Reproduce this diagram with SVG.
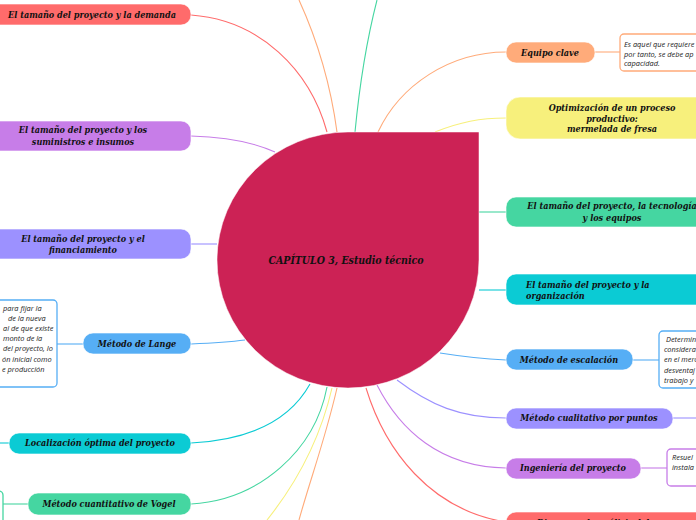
<svg xmlns="http://www.w3.org/2000/svg" width="696" height="520" viewBox="0 0 696 520">
<style>
.n{stroke:#ffffff;stroke-opacity:0.6;stroke-width:1}
.t{font-family:"DejaVu Serif","Liberation Serif",serif;font-weight:bold;font-style:italic;font-size:9px;font-stretch:condensed;fill:#111}
.big{font-size:10.5px}
.m{text-anchor:middle}
.c{fill:none;stroke-width:1.1}
.note{fill:#fff;stroke-width:1.3}
.nt{font-family:"Open Sans","Noto Sans",sans-serif;font-style:italic;font-size:7.4px;fill:#222}
</style>
<g id="connectors">
<path class="c" stroke="#FF6B6B" d="M191,15 C260,20 310,70 327,132"/>
<path class="c" stroke="#C77DE8" d="M191,136 C230,137 255,143 275,152"/>
<path class="c" stroke="#9C91FF" d="M191,244 L217,244"/>
<path class="c" stroke="#56AEF5" d="M191,344 C215,343 230,342 245,340"/>
<path class="c" stroke="#56AEF5" d="M57,344 L83,344"/>
<path class="c" stroke="#0BCBD4" d="M191,443 C250,440 290,420 310,384"/>
<path class="c" stroke="#0BCBD4" d="M0,443 L9,443"/>
<path class="c" stroke="#45D6A1" d="M191,504 C260,500 315,450 327,387"/>
<path class="c" stroke="#45D6A1" d="M3,504 L28,504"/>
<path class="c" stroke="#F7F07C" d="M332,388 C320,440 295,485 267,520"/>
<path class="c" stroke="#FFAB7A" d="M337,388 C325,440 310,480 299,520"/>
<path class="c" stroke="#FF6B6B" d="M366,388 C385,450 430,510 506,522"/>
<path class="c" stroke="#C77DE8" d="M377,385 C400,430 440,467 506,468"/>
<path class="c" stroke="#C77DE8" d="M641,468 L667,468"/>
<path class="c" stroke="#9C91FF" d="M397,380 C430,405 460,418 506,418"/>
<path class="c" stroke="#9C91FF" d="M673,418 L696,418"/>
<path class="c" stroke="#56AEF5" d="M440,353 C465,357 485,359 506,360"/>
<path class="c" stroke="#56AEF5" d="M633,360 L659,360"/>
<path class="c" stroke="#0BCBD4" d="M479,290 L506,290"/>
<path class="c" stroke="#45D6A1" d="M479,212 L506,212"/>
<path class="c" stroke="#F7F07C" d="M435,132 C460,122 480,118 506,118"/>
<path class="c" stroke="#FFAB7A" d="M378,132 C400,85 450,52 506,52"/>
<path class="c" stroke="#FFAB7A" d="M595,52 L620,52"/>
<path class="c" stroke="#FFAB7A" d="M337,132 C330,80 315,35 299,0"/>
<path class="c" stroke="#45D6A1" d="M355,132 C360,80 368,35 377,0"/>
</g>
<g id="center">
<path d="M348,132 H479 V260 A131,128 0 1 1 348,132 Z" fill="#CC2255" stroke="#fff" stroke-opacity="0.5"/>
<text class="t big m" x="346" y="264">CAPÍTULO 3, Estudio técnico</text>
</g>
<g id="n-demanda">
<rect class="n" x="-20" y="4" width="211" height="21" rx="10" fill="#FF6B6B"/>
<text class="t m" x="92" y="18">El tamaño del proyecto y la demanda</text>
</g>
<g id="n-suministros">
<rect class="n" x="-20" y="121" width="211" height="30" rx="10" fill="#C77DE8"/>
<text class="t m" x="83" y="133">El tamaño del proyecto y los</text>
<text class="t m" x="83" y="145">suministros e insumos</text>
</g>
<g id="n-financiamiento">
<rect class="n" x="-20" y="229" width="211" height="30" rx="10" fill="#9C91FF"/>
<text class="t m" x="83" y="242">El tamaño del proyecto y el</text>
<text class="t m" x="83" y="253">financiamiento</text>
</g>
<g id="n-lange">
<rect class="n" x="83" y="333" width="108" height="21" rx="10" fill="#56AEF5"/>
<text class="t m" x="137" y="347">Método de Lange</text>
</g>
<g id="note-lange">
<rect class="note" stroke="#56AEF5" x="-60" y="300" width="117" height="87" rx="4"/>
<text class="nt" x="3" y="311">para fijar la</text>
<text class="nt" x="8" y="321">de la nueva</text>
<text class="nt" x="3" y="331">al de que existe</text>
<text class="nt" x="3" y="341">monto de la</text>
<text class="nt" x="3" y="351">del proyecto, lo</text>
<text class="nt" x="2" y="362">ón inicial como</text>
<text class="nt" x="2" y="372">e producción</text>
</g>
<g id="n-localizacion">
<rect class="n" x="9" y="433" width="182" height="21" rx="10" fill="#0BCBD4"/>
<text class="t m" x="100" y="446">Localización óptima del proyecto</text>
</g>
<g id="n-vogel">
<rect class="n" x="28" y="493" width="163" height="22" rx="10" fill="#45D6A1"/>
<text class="t m" x="109" y="507">Método cuantitativo de Vogel</text>
</g>
<g id="note-vogel">
<rect class="note" stroke="#45D6A1" x="-100" y="491" width="103" height="60" rx="4"/>
</g>
<g id="n-equipo">
<rect class="n" x="506" y="42" width="89" height="21" rx="10" fill="#FFAB7A"/>
<text class="t m" x="550" y="56">Equipo clave</text>
</g>
<g id="note-equipo">
<rect class="note" stroke="#FFAB7A" x="620" y="34" width="100" height="37" rx="4"/>
<text class="nt" x="624" y="47">Es aquel que requiere</text>
<text class="nt" x="624" y="57">por tanto, se debe ap</text>
<text class="nt" x="624" y="66">capacidad.</text>
</g>
<g id="n-optimizacion">
<rect class="n" x="506" y="97" width="220" height="42" rx="14" fill="#F7F07C"/>
<text class="t m" x="612" y="111">Optimización de un proceso</text>
<text class="t m" x="612" y="122">productivo:</text>
<text class="t m" x="612" y="132">mermelada de fresa</text>
</g>
<g id="n-tecnologia">
<rect class="n" x="506" y="197" width="220" height="30" rx="10" fill="#45D6A1"/>
<text class="t m" x="612" y="209">El tamaño del proyecto, la tecnología</text>
<text class="t m" x="612" y="221">y los equipos</text>
</g>
<g id="n-organizacion">
<rect class="n" x="506" y="274" width="220" height="31" rx="10" fill="#0BCBD4"/>
<text class="t" x="526" y="288">El tamaño del proyecto y la</text>
<text class="t" x="526" y="299">organización</text>
</g>
<g id="n-escalacion">
<rect class="n" x="506" y="349" width="127" height="21" rx="10" fill="#56AEF5"/>
<text class="t m" x="569" y="363">Método de escalación</text>
</g>
<g id="note-escalacion">
<rect class="note" stroke="#56AEF5" x="659" y="331" width="60" height="57" rx="4"/>
<text class="nt" x="666" y="342">Determin</text>
<text class="nt" x="664" y="352">considera</text>
<text class="nt" x="664" y="362">en el merc</text>
<text class="nt" x="664" y="373">desventaj</text>
<text class="nt" x="664" y="383">trabajo y</text>
</g>
<g id="n-cualitativo">
<rect class="n" x="506" y="408" width="167" height="21" rx="10" fill="#9C91FF"/>
<text class="t m" x="589" y="421">Método cualitativo por puntos</text>
</g>
<g id="n-ingenieria">
<rect class="n" x="506" y="458" width="135" height="21" rx="10" fill="#C77DE8"/>
<text class="t m" x="573" y="471">Ingeniería del proyecto</text>
</g>
<g id="note-ingenieria">
<rect class="note" stroke="#C77DE8" x="667" y="449" width="60" height="37" rx="4"/>
<text class="nt" x="672" y="460">Resuel</text>
<text class="nt" x="672" y="470">instala</text>
</g>
<g id="n-diagrama">
<rect class="n" x="506" y="512" width="220" height="30" rx="10" fill="#FF6B6B"/>
<text class="t m" x="612" y="526">Diagrama de análisis del proceso</text>
</g>
</svg>
